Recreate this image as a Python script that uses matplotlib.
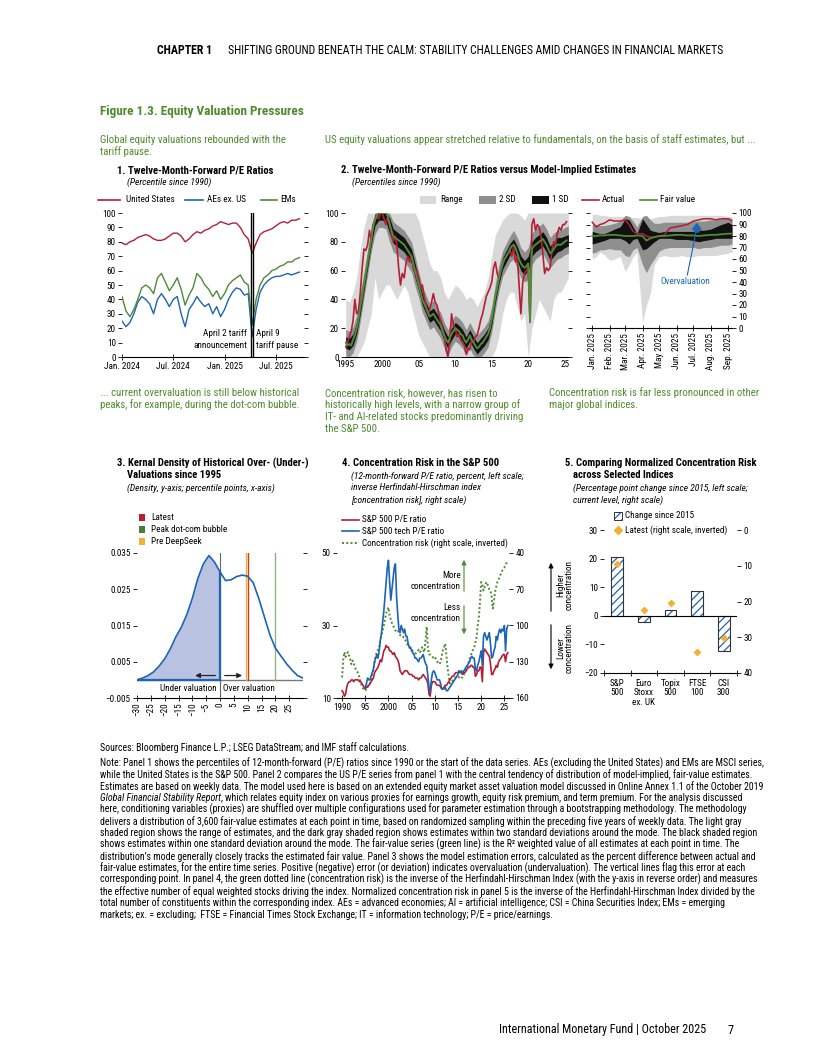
import numpy as np
import matplotlib
matplotlib.use('Agg')
import matplotlib.pyplot as plt
from matplotlib import font_manager as fm
from matplotlib.lines import Line2D
from matplotlib.patches import Rectangle, FancyArrowPatch

# pick the narrowest installed sans family
avail = {f.name for f in fm.fontManager.ttflist}
FONT = next((f for f in ['Roboto Condensed', 'Liberation Sans Narrow', 'Noto Sans Condensed',
                         'Roboto', 'Liberation Sans'] if f in avail), 'DejaVu Sans')
plt.rcParams['font.family'] = [FONT, 'DejaVu Sans']
plt.rcParams['hatch.linewidth'] = 0.9

RED = '#b51f35'
BLUE = '#1c64b4'
GREEN = '#4e8a37'
HEAD_GREEN = '#4f8b2e'
ORANGE = '#f2b134'

# ---------------- data ----------------
# panel 1: percentiles, biweekly from Jan 2024
p1_us = [79, 78, 80, 81, 83, 84, 85, 84, 82, 81, 81, 82, 84, 86, 86, 84, 80, 82, 85, 87, 86, 88, 89,
         91, 92, 94, 93, 92, 93, 93, 90, 85, 82, 72, 79, 85, 87, 88, 89, 91, 93, 94, 93, 95, 95, 96]
p1_aes = [25, 21, 24, 30, 38, 42, 40, 37, 30, 40, 44, 40, 35, 40, 42, 30, 21, 33, 37, 42, 38, 35, 37,
          30, 35, 28, 33, 40, 45, 48, 47, 43, 44, 14, 33, 45, 50, 53, 55, 56, 56, 57, 58, 57, 58, 59]
p1_ems = [42, 32, 28, 33, 40, 48, 50, 48, 44, 55, 58, 52, 46, 50, 55, 47, 36, 43, 48, 58, 55, 50, 47,
          42, 46, 40, 44, 50, 53, 55, 57, 52, 50, 22, 40, 50, 55, 57, 60, 61, 63, 64, 66, 66, 68, 69]
p1_events = ['2025-04-02', '2025-04-09']

# panel 2: quarterly from 1995
p2_actual = [7, 10, 14, 18, 25, 40, 30, 32, 45, 62, 75, 74, 78, 88, 80, 92, 95, 98, 96, 100,
             100, 96, 92, 97, 94, 86, 80, 84, 78, 62, 50, 58, 55, 65, 70, 66, 70, 62, 58, 60,
             55, 48, 50, 42, 36, 30, 33, 38, 44, 38, 36, 30, 25, 20, 15, 5, 0, 12, 30, 22,
             20, 14, 16, 12, 10, 8, 2, 6, 5, 12, 10, 14, 15, 20, 26, 30, 36, 42, 45, 48,
             52, 62, 66, 58, 54, 60, 64, 68, 70, 72, 74, 70, 76, 66, 70, 50, 30, 52, 58, 60,
             62, 24, 92, 96, 88, 92, 90, 84, 72, 58, 62, 60, 62, 74, 80, 78, 86, 90, 88, 92,
             92, 94]
p2_fair = [10, 8, 9, 8, 12, 15, 20, 26, 35, 42, 50, 58, 66, 74, 82, 90, 95, 98, 100, 100,
           100, 100, 100, 98, 92, 88, 84, 83, 82, 81, 80, 79, 78, 76, 74, 72, 70, 65, 60, 55,
           50, 45, 40, 37, 34, 31, 28, 29, 30, 28, 26, 24, 22, 18, 15, 12, 10, 13, 16, 18,
           20, 19, 18, 16, 15, 12, 10, 12, 15, 12, 10, 8, 6, 7, 9, 10, 12, 14, 16, 20,
           26, 34, 42, 48, 55, 60, 65, 68, 70, 72, 75, 77, 78, 76, 72, 68, 65, 63, 62, 63,
           65, 25, 75, 77, 78, 79, 80, 81, 82, 80, 78, 75, 72, 73, 75, 77, 78, 78, 78, 79,
           80, 81]
# semiannual bands from 1995
p2_sd1_lo = [6, 5, 8, 16, 30, 46, 62, 78, 91, 95, 95, 94, 86, 79, 77, 75, 73, 69, 65, 55, 46, 36,
             30, 24, 26, 22, 18, 11, 6, 12, 16, 14, 11, 6, 11, 6, 2, 5, 8, 12, 22, 38, 51, 61,
             66, 71, 74, 67, 60, 57, 60, 70, 73, 75, 77, 73, 67, 70, 73, 74, 76, 77]
p2_sd1_hi = [14, 13, 16, 24, 40, 54, 70, 86, 99, 100, 100, 100, 97, 89, 87, 85, 83, 79, 75, 65,
             54, 44, 38, 32, 34, 30, 26, 19, 14, 20, 24, 22, 19, 14, 19, 14, 10, 13, 16, 20, 30,
             46, 59, 69, 74, 79, 82, 77, 70, 67, 70, 80, 83, 85, 87, 83, 77, 80, 83, 83, 84, 85]
p2_sd2_lo = [1, 0, 3, 11, 25, 41, 57, 73, 85, 90, 90, 89, 80, 73, 71, 69, 67, 63, 59, 49, 41, 31,
             25, 19, 21, 17, 13, 6, 1, 7, 11, 9, 6, 1, 6, 1, 0, 0, 3, 7, 17, 33, 46, 56, 61, 66,
             68, 61, 55, 52, 54, 64, 68, 70, 72, 67, 62, 65, 68, 69, 71, 72]
p2_sd2_hi = [19, 18, 21, 29, 45, 59, 75, 91, 100, 100, 100, 100, 100, 94, 92, 90, 88, 84, 80, 70,
             59, 49, 43, 37, 39, 35, 31, 24, 19, 25, 29, 27, 24, 19, 24, 19, 15, 18, 21, 25, 35,
             51, 64, 74, 79, 84, 88, 83, 76, 73, 76, 86, 89, 91, 93, 89, 83, 86, 88, 88, 90, 91]
p2_rng_lo = [0, 0, 0, 0, 5, 10, 20, 30, 55, 40, 45, 50, 50, 45, 40, 45, 50, 45, 35, 25, 15, 10,
             5, 0, 0, 0, 0, 0, 0, 0, 0, 0, 0, 0, 0, 0, 0, 0, 0, 0, 0, 5, 15, 30, 40, 45, 45, 35,
             25, 30, 0, 20, 30, 40, 35, 30, 25, 40, 45, 45, 50, 55]
p2_rng_hi = [40, 38, 45, 55, 75, 90, 100, 100, 100, 100, 100, 100, 100, 100, 100, 100, 100, 100,
             100, 100, 95, 85, 75, 65, 60, 60, 55, 45, 40, 45, 50, 48, 45, 40, 42, 40, 35, 40, 45,
             55, 70, 85, 90, 95, 98, 100, 100, 100, 98, 95, 100, 100, 100, 100, 100, 100, 100,
             100, 100, 100, 100, 100]

# panel 2 inset: Jan-Sep 2025
p2i_dates = ['2025-01-01', '2025-01-08', '2025-01-15', '2025-01-22', '2025-02-01', '2025-02-10',
             '2025-02-20', '2025-03-01', '2025-03-08', '2025-03-15', '2025-03-22', '2025-04-01',
             '2025-04-08', '2025-04-15', '2025-04-22', '2025-05-01', '2025-05-10', '2025-05-20',
             '2025-06-01', '2025-06-10', '2025-06-20', '2025-07-01', '2025-07-10', '2025-07-20',
             '2025-08-01', '2025-08-10', '2025-08-20', '2025-09-01', '2025-09-08']
p2i_actual = [92, 88, 90, 91, 94, 93, 93, 94, 90, 84, 82, 82, 80, 79, 79, 80, 81, 87, 88, 89,
              90, 93, 94, 95, 95, 94, 95, 95, 93]
p2i_fair = [80, 80, 80.5, 80.5, 81, 81, 80.5, 80, 80, 80, 80.5, 80, 76, 78, 79, 80, 80, 80.5,
            81, 81, 80.5, 80.5, 80, 80.5, 81, 81, 81.5, 82, 82]
p2i_sd1_lo = [73, 74, 75, 76, 78, 78, 78, 76, 73, 77, 78, 68, 69, 72, 75, 78, 78, 78, 77, 77,
              77, 76, 75, 76, 77, 78, 78, 78, 78]
p2i_sd1_hi = [84, 83, 82, 82, 84, 86, 88, 95, 94, 88, 82, 95, 90, 85, 84, 83, 84, 84, 84, 84,
              84, 84, 85, 85, 86, 88, 90, 92, 90]
p2i_sd2_lo = [65, 66, 68, 68, 69, 68, 68, 63, 62, 68, 70, 55, 48, 55, 60, 67, 69, 70, 70, 70,
              70, 70, 69, 70, 70, 71, 72, 72, 73]
p2i_sd2_hi = [90, 90, 89, 89, 90, 91, 93, 98, 97, 93, 88, 97, 98, 94, 91, 91, 92, 92, 92, 92,
              92, 93, 93, 93, 94, 94, 95, 96, 95]
p2i_rng_lo = [60, 62, 66, 64, 59, 60, 62, 49, 55, 62, 66, 5, 20, 30, 55, 62, 63, 62, 62, 63,
              62, 62, 63, 63, 63, 63, 64, 65, 66]
p2i_rng_hi = [99, 99, 98, 98, 97, 97, 97, 97, 97, 96, 96, 95, 95, 95, 96, 97, 97, 98, 98, 98,
              98, 98, 98, 98, 98, 98, 98, 97, 97]

# panel 3: kernel density
kd_x = [-30, -28, -26, -24, -22, -20, -18, -16, -14, -12, -10, -8, -6, -4, -2, 0, 2, 4, 6, 8,
        10, 12, 14, 16, 18, 20, 22, 24, 26, 28, 30]
kd_y = [0.0000, 0.0005, 0.0012, 0.0022, 0.0038, 0.0058, 0.0085, 0.0118, 0.0145, 0.0180, 0.0225,
        0.0280, 0.0320, 0.0343, 0.0325, 0.0298, 0.0274, 0.0276, 0.0285, 0.0289, 0.0286, 0.0268,
        0.0225, 0.0175, 0.0125, 0.0088, 0.0066, 0.0045, 0.0027, 0.0012, 0.0005]
kd_latest, kd_dotcom, kd_deepseek = 10, 20, 9.5

# panel 4: quarterly from 1990 (tech from 1995)
p4_spx = [12, 11.5, 10.5, 11, 13, 14, 14.5, 14.5, 15, 15, 14.5, 15, 15, 15, 15, 14.5,
          14.5, 14, 13.5, 13, 12.5, 13, 13, 13.5, 14, 14.5, 15, 15.5, 17, 17.5, 18, 18.5,
          19.5, 20.5, 20, 21.5, 23, 23.5, 24.5, 24, 24, 23, 23, 22.5, 22, 22.5, 21.5, 21,
          20.5, 19.5, 17.5, 17, 16.5, 17, 17.5, 17.5, 17.5, 17, 16.5, 16.5, 16.5, 16, 16, 15.5,
          15.5, 15.5, 15, 15.5, 15.5, 16, 16.5, 16, 15.5, 15, 14, 11, 10.5, 13.5, 14.5, 14.5,
          14.5, 14, 13.5, 13.5, 13.5, 13, 12.5, 12.5, 13, 13.5, 13.5, 14, 14.5, 15, 15.5, 16,
          16, 16.5, 17, 17, 17, 17.5, 17, 17, 16.5, 17, 17, 17.5, 18, 18.5, 18.5, 19,
          19, 18.5, 18.5, 16, 16.5, 17.5, 17.5, 18.5, 18.5, 14.5, 22.5, 23.5, 23, 22.5, 22, 21.5,
          19.5, 16.5, 16.5, 17.5, 18, 19, 18.5, 20, 20.5, 21, 21.5, 22, 22, 20, 22, 22.5]
p4_tech = [13, 14, 15.5, 15, 15, 16, 17, 18, 20, 21, 22, 21, 23, 26, 28, 31, 34, 38, 42, 46,
           48, 42, 37, 40, 43, 46, 47, 38, 33, 29, 28, 30, 29, 28, 29, 27, 27, 25, 24, 24,
           23, 22.5, 22, 21, 21, 20.5, 20, 21, 21, 21.5, 22, 20.5, 19.5, 19, 16, 13, 11.5, 15, 17, 17.5,
           17, 16, 15, 15, 15, 14, 12.5, 12.5, 12.5, 13, 12, 12, 12.5, 13, 13.5, 14, 14.5, 15, 15.5, 16,
           16.5, 17.5, 17, 17.5, 17, 17.5, 18, 18.5, 19, 19.5, 20, 21, 21.5, 21, 21, 18, 17.5, 19, 20, 21.5,
           23, 19, 27, 28, 27, 26, 27, 28, 25, 21, 21.5, 23, 24, 27, 26, 28, 29, 28, 29, 28.5,
           30, 23, 29, 30]
p4_conc = [143, 128, 122, 126, 124, 122, 125, 128, 132, 129, 131, 134, 137, 138, 140, 143,
           147, 150, 152, 153, 154, 152, 150, 148, 148, 145, 140, 137, 130, 125, 122, 120,
           118, 112, 108, 104, 100, 95, 90, 87, 85, 92, 95, 98, 100, 102, 104, 105,
           104, 106, 108, 108, 108, 110, 111, 113, 115, 117, 118, 120, 120, 121, 122, 123,
           123, 122, 120, 122, 121, 118, 120, 122, 112, 101, 118, 124, 124, 125, 126, 127,
           126, 128, 130, 131, 132, 130, 125, 120, 118, 115, 125, 135, 142, 148, 147, 146,
           145, 144, 143, 143, 142, 143, 142, 143, 143, 141, 138, 136, 134, 131, 128, 125,
           122, 120, 118, 114, 110, 100, 93, 80, 64, 66, 71, 68, 65, 64, 68, 70,
           71, 76, 86, 80, 72, 68, 64, 62, 60, 57, 55, 53, 52, 50, 48, 46]

# panel 5
p5_labels = ['S&P\n500', 'Euro\nStoxx\nex. UK', 'Topix\n500', 'FTSE\n100', 'CSI\n300']
p5_change = [20.5, -2.0, 2.0, 8.7, -12.3]
p5_latest = [9.5, 22.4, 20.5, 34.0, 30.2]

# ---------------- layout helpers (pixel coords, origin top-left) ----------------
W, H = 816, 1056
fig = plt.figure(figsize=(W / 100, H / 100), dpi=100)
R = fig.canvas.get_renderer()


def add_ax(x0, y0, x1, y1):
    return fig.add_axes([x0 / W, 1 - y1 / H, (x1 - x0) / W, (y1 - y0) / H])


def txt(x, y, s, **kw):
    kw.setdefault('va', 'center')
    kw.setdefault('fontsize', 7)
    return fig.text(x / W, 1 - y / H, s, **kw)


def fit_size(t, width):
    return t.get_fontsize() * width / t.get_window_extent(renderer=R).width


def block(x, y, dy, rows, width=None, size=None, **kw):
    ts = [txt(x, y + i * dy, r, **kw) for i, r in enumerate(rows)]
    fs = size if size else (fit_size(ts[0], width) if width else None)
    if fs:
        for t in ts:
            t.set_fontsize(fs)
    return ts


def leg_line(x0, x1, y, color, ls='-', lw=1.2):
    fig.add_artist(Line2D([x0 / W, x1 / W], [1 - y / H, 1 - y / H], color=color, ls=ls, lw=lw,
                          transform=fig.transFigure))


def leg_box(x0, y0, w, h, **kw):
    fig.add_artist(Rectangle((x0 / W, 1 - (y0 + h) / H), w / W, h / H,
                             transform=fig.transFigure, **kw))


def fig_arrow(x0, y0, x1, y1, color='black', lw=0.8):
    fig.add_artist(FancyArrowPatch((x0 / W, 1 - y0 / H), (x1 / W, 1 - y1 / H),
                                   transform=fig.transFigure, arrowstyle='-|>',
                                   mutation_scale=7, color=color, lw=lw))


# chart text size from a reference tick label
_t = txt(0, 0, 'Jan. 2024')
CH = fit_size(_t, 36)
_t.remove()


def style(ax, right=True):
    for s in ['top', 'left', 'right']:
        ax.spines[s].set_visible(False)
    ax.spines['bottom'].set_linewidth(0.8)
    ax.tick_params(labelsize=CH, length=3, width=0.6, pad=1.5, right=right, labelright=False)
    ax.set_facecolor('none')


# ---------------- header / headings ----------------
t1 = txt(157, 51, 'CHAPTER 1', fontweight='bold')
t1.set_fontsize(fit_size(t1, 55))
t2 = txt(228, 51, 'SHIFTING GROUND BENEATH THE CALM: STABILITY CHALLENGES AMID CHANGES IN FINANCIAL MARKETS')
t2.set_fontsize(fit_size(t2, 499))

tt = txt(100, 111, 'Figure 1.3. Equity Valuation Pressures', fontweight='bold', color=HEAD_GREEN)
tt.set_fontsize(fit_size(tt, 205))

SUB = block(100, 140, 12, ['Global equity valuations rebounded with the', 'tariff pause.'],
            width=187, color=HEAD_GREEN)
SUBFS = SUB[0].get_fontsize()
block(325, 140, 12, ['US equity valuations appear stretched relative to fundamentals, on the basis of staff estimates, but ...'],
      size=SUBFS, color=HEAD_GREEN)
block(100, 393, 12, ['... current overvaluation is still below historical',
                     'peaks, for example, during the dot-com bubble.'], size=SUBFS, color=HEAD_GREEN)
block(325, 393, 12, ['Concentration risk, however, has risen to',
                     'historically high levels, with a narrow group of',
                     'IT- and AI-related stocks predominantly driving',
                     'the S&P 500.'], size=SUBFS, color=HEAD_GREEN)
block(549, 393, 12, ['Concentration risk is far less pronounced in other',
                     'major global indices.'], size=SUBFS, color=HEAD_GREEN)

# panel titles
PT = block(117, 170, 12, ['1. Twelve-Month-Forward P/E Ratios'], width=157, fontweight='bold')
PTFS = PT[0].get_fontsize()
IT = block(127, 182, 12, ['(Percentile since 1990)'], width=84, style='italic')
ITFS = IT[0].get_fontsize()
block(341, 170, 12, ['2. Twelve-Month-Forward P/E Ratios versus Model-Implied Estimates'],
      size=PTFS, fontweight='bold')
block(352, 182, 12, ['(Percentiles since 1990)'], size=ITFS, style='italic')
block(117, 463, 12, ['3. Kernal Density of Historical Over- (Under-)'], size=PTFS, fontweight='bold')
block(127, 475, 12, ['Valuations since 1995'], size=PTFS, fontweight='bold')
block(127, 488, 12, ['(Density, y-axis; percentile points, x-axis)'], size=ITFS, style='italic')
block(342, 463, 12, ['4. Concentration Risk in the S&P 500'], size=PTFS, fontweight='bold')
block(351, 476, 12, ['(12-month-forward P/E ratio, percent, left scale;',
                     'inverse Herfindahl-Hirschman index',
                     '[concentration risk], right scale)'], size=ITFS, style='italic')
block(565, 463, 12, ['5. Comparing Normalized Concentration Risk'], size=PTFS, fontweight='bold')
block(573, 475, 12, ['across Selected Indices'], size=PTFS, fontweight='bold')
block(573, 488, 12, ['(Percentage point change since 2015, left scale;',
                     'current level, right scale)'], size=ITFS, style='italic')

# ---------------- panel 1 ----------------
ax1 = add_ax(122, 213, 304, 357)
style(ax1)
d1 = np.datetime64('2024-01-01') + np.arange(len(p1_us)) * np.timedelta64(14, 'D')
ax1.plot(d1, p1_us, color=RED, lw=1.0)
ax1.plot(d1, p1_aes, color=BLUE, lw=1.0)
ax1.plot(d1, p1_ems, color=GREEN, lw=1.0)
for d in p1_events:
    ax1.axvline(np.datetime64(d), color='black', lw=1.0)
ax1.set_ylim(0, 100)
ax1.set_yticks(range(0, 101, 10))
ax1.set_xlim(np.datetime64('2024-01-01'), np.datetime64('2025-10-08'))
ax1.set_xticks(np.array(['2024-01-01', '2024-07-01', '2025-01-01', '2025-07-01'], dtype='datetime64[D]'))
ax1.set_xticklabels(['Jan. 2024', 'Jul. 2024', 'Jan. 2025', 'Jul. 2025'])
ax1.tick_params(axis='x', direction='inout', length=4)
block(247, 333, 12, ['April 2 tariff', 'announcement'], size=CH, ha='right')
block(256, 333, 12, ['April 9', 'tariff pause'], size=CH, ha='left')
leg_line(98, 120, 200, RED)
txt(126, 200, 'United States', fontsize=CH)
leg_line(185, 203, 200, BLUE)
txt(207, 200, 'AEs ex. US', fontsize=CH)
leg_line(261, 277, 200, GREEN)
txt(280, 200, 'EMs', fontsize=CH)

# ---------------- panel 2 ----------------
ax2 = add_ax(345, 213, 568, 357)
style(ax2)
tq = 1995 + 0.25 * np.arange(len(p2_actual))
ts = 1995 + 0.5 * np.arange(len(p2_rng_lo))
ax2.fill_between(ts, p2_rng_lo, p2_rng_hi, color='#d9d9d9', lw=0)
ax2.fill_between(ts, p2_sd2_lo, p2_sd2_hi, color='#8f8f8f', lw=0)
ax2.fill_between(ts, p2_sd1_lo, p2_sd1_hi, color='#111111', lw=0)
ax2.plot(tq, p2_actual, color=RED, lw=1.2)
ax2.plot(1995 + 0.25 * np.arange(len(p2_fair)), p2_fair, color=GREEN, lw=1.4)
ax2.set_xlim(1994.9, 2025.45)
ax2.set_ylim(0, 100)
ax2.set_yticks(range(0, 101, 20))
ax2.set_xticks([1995, 2000, 2005, 2010, 2015, 2020, 2025])
ax2.set_xticklabels(['1995', '2000', '05', '10', '15', '20', '25'])
ax2.tick_params(axis='x', length=0, pad=2)

# inset of 2025
ax2i = add_ax(590, 213, 732, 328)
style(ax2i)
di = np.array(p2i_dates, dtype='datetime64[D]')
ax2i.fill_between(di, p2i_rng_lo, p2i_rng_hi, color='#d9d9d9', lw=0)
ax2i.fill_between(di, p2i_sd2_lo, p2i_sd2_hi, color='#8f8f8f', lw=0)
ax2i.fill_between(di, p2i_sd1_lo, p2i_sd1_hi, color='#111111', lw=0)
ax2i.plot(di, p2i_actual, color=RED, lw=1.1)
ax2i.plot(di, p2i_fair, color=GREEN, lw=1.3)
ax2i.set_ylim(0, 100)
ax2i.set_yticks(range(0, 101, 10))
ax2i.tick_params(axis='y', labelleft=False, labelright=True)
ax2i.set_xlim(np.datetime64('2024-12-28'), np.datetime64('2025-09-08'))
months = np.array(['2025-%02d-01' % m for m in range(1, 10)], dtype='datetime64[D]')
ax2i.set_xticks(months)
ax2i.set_xticklabels(['Jan. 2025', 'Feb. 2025', 'Mar. 2025', 'Apr. 2025', 'May 2025',
                      'Jun. 2025', 'Jul. 2025', 'Aug. 2025', 'Sep. 2025'], rotation=90)
ax2i.tick_params(axis='x', direction='inout', length=4)
arr_d = np.datetime64('2025-07-07')
ax2i.annotate('', xy=(arr_d, 93), xytext=(arr_d, 81),
              arrowprops=dict(arrowstyle='simple,head_width=1.2,head_length=0.8,tail_width=0.6',
                              color=BLUE, mutation_scale=5))
ax2i.plot([np.datetime64('2025-06-20'), np.datetime64('2025-07-05')], [46, 82], color=BLUE, lw=0.8)
ax2i.text(np.datetime64('2025-06-16'), 40, 'Overvaluation', color=BLUE, fontsize=CH,
          ha='center', va='center')

leg_box(420, 196, 16, 8, color='#d9d9d9', lw=0)
txt(440, 200, 'Range', fontsize=CH)
leg_box(479, 196, 17, 8, color='#8f8f8f', lw=0)
txt(499, 200, '2 SD', fontsize=CH)
leg_box(532, 196, 17, 8, color='#111111', lw=0)
txt(552, 200, '1 SD', fontsize=CH)
leg_line(582, 599, 200, RED)
txt(602, 200, 'Actual', fontsize=CH)
leg_line(640, 657, 200, GREEN)
txt(660, 200, 'Fair value', fontsize=CH)

# ---------------- panel 3 ----------------
ax3 = add_ax(137, 553, 303, 698)
style(ax3)
kx = np.array(kd_x, dtype=float)
ky = np.array(kd_y)
ax3.fill_between(kx, 0, ky, where=kx <= 0, color='#b9c2e1', lw=0)
ax3.plot([-30, 30], [0, 0], color='#777777', lw=1.0)
ax3.plot([-30, 0], [0, 0], color=BLUE, lw=1.6)
ax3.plot([0, 0], [-0.005, 0.035], color='#666666', lw=0.8)
ax3.plot([0, 0], [0, kd_y[kd_x.index(0)]], color=BLUE, lw=1.6)
ax3.plot([kd_deepseek, kd_deepseek], [0, 0.035], color=ORANGE, lw=1.0)
ax3.plot([kd_latest, kd_latest], [0, 0.035], color='#d13a2a', lw=1.0)
ax3.plot([kd_dotcom, kd_dotcom], [0, 0.035], color='#8fb47e', lw=1.0)
ax3.plot(kx, ky, color=BLUE, lw=1.2)
ax3.annotate('', xy=(-10, 0.0012), xytext=(-0.7, 0.0012),
             arrowprops=dict(arrowstyle='-|>', color='#222222', lw=0.9, mutation_scale=7))
ax3.annotate('', xy=(9, 0.0012), xytext=(0.7, 0.0012),
             arrowprops=dict(arrowstyle='-|>', color='#222222', lw=0.9, mutation_scale=7))
ax3.text(-1.2, -0.0024, 'Under valuation', ha='right', va='center', fontsize=CH)
ax3.text(1.2, -0.0024, 'Over valuation', ha='left', va='center', fontsize=CH)
ax3.set_xlim(-30, 30)
ax3.set_ylim(-0.005, 0.035)
ax3.set_yticks([-0.005, 0.005, 0.015, 0.025, 0.035])
ax3.set_yticklabels(['\u22120.005', '0.005', '0.015', '0.025', '0.035'])
ax3.set_xticks(range(-30, 30, 5))
ax3.set_xticklabels([('\u2212%d' % -v) if v < 0 else str(v) for v in range(-30, 30, 5)], rotation=90)
ax3.tick_params(axis='x', direction='inout', length=4)
leg_box(139, 514, 6, 7, color=RED, lw=0)
txt(151, 518, 'Latest', fontsize=CH)
leg_box(139, 526, 6, 7, color='#4c7f35', lw=0)
txt(151, 530, 'Peak dot-com bubble', fontsize=CH)
leg_box(139, 538, 6, 7, color=ORANGE, lw=0)
txt(151, 542, 'Pre DeepSeek', fontsize=CH)

# ---------------- panel 4 ----------------
ax4 = add_ax(337, 553, 509, 698)
style(ax4)
ax4b = ax4.twinx()
for s in ax4b.spines.values():
    s.set_visible(False)
ax4b.tick_params(labelsize=CH, length=3, width=0.6, pad=1.5)
t4 = 1990 + 0.25 * np.arange(len(p4_spx))
t4t = 1995 + 0.25 * np.arange(len(p4_tech))
ax4b.plot(1990 + 0.25 * np.arange(len(p4_conc)), p4_conc, color=GREEN, lw=1.4, ls=(0, (1, 1.2)))
ax4.plot(t4, p4_spx, color=RED, lw=1.2)
ax4.plot(t4t, p4_tech, color=BLUE, lw=1.2)
ax4.set_zorder(ax4b.get_zorder() + 1)
ax4.set_xlim(1988.9, 2026.0)
ax4.set_ylim(10, 50)
ax4.set_yticks([10, 30, 50])
ax4.tick_params(right=False)
ax4b.set_ylim(160, 40)
ax4b.set_yticks([40, 70, 100, 130, 160])
ax4.set_xticks(range(1990, 2026, 5))
ax4.set_xticklabels(['1990', '95', '2000', '05', '10', '15', '20', '25'])
ax4.tick_params(axis='x', direction='inout', length=4)
block(461, 575, 11.5, ['More', 'concentration'], size=CH, ha='right')
block(461, 607, 11.5, ['Less', 'concentration'], size=CH, ha='right')
fig_arrow(464, 594, 464, 557, color=GREEN)
fig_arrow(464, 603, 464, 637, color=GREEN)
leg_line(342, 359, 520, RED)
txt(362, 520, 'S&P 500 P/E ratio', fontsize=CH)
leg_line(342, 359, 531, BLUE)
txt(362, 531, 'S&P 500 tech P/E ratio', fontsize=CH)
leg_line(342, 359, 543, GREEN, ls=(0, (1, 1.2)), lw=1.4)
txt(362, 543, 'Concentration risk (right scale, inverted)', fontsize=CH)

# ---------------- panel 5 ----------------
ax5 = add_ax(604, 530, 737, 673)
style(ax5)
ax5b = ax5.twinx()
for s in ax5b.spines.values():
    s.set_visible(False)
ax5b.tick_params(labelsize=CH, length=3, width=0.6, pad=1.5)
xp = np.arange(len(p5_change))
ax5.bar(xp, p5_change, width=0.45, facecolor='white', edgecolor=BLUE, hatch='////', lw=0)
ax5.bar(xp, p5_change, width=0.45, fill=False, edgecolor='#333333', lw=0.8)
ax5.axhline(0, color='black', lw=0.8)
ax5b.scatter(xp, p5_latest, marker='D', s=16, color=ORANGE, zorder=5, lw=0)
ax5.set_xlim(-0.5, 4.5)
ax5.set_ylim(-20, 30)
ax5.set_yticks(range(-20, 31, 10))
ax5.set_yticklabels(['\u221220', '\u221210', '0', '10', '20', '30'])
ax5.tick_params(right=False)
ax5b.set_ylim(40, 0)
ax5b.set_yticks(range(0, 41, 10))
ax5.set_xticks(xp)
ax5.set_xticklabels(p5_labels, linespacing=1.1)
ax5.tick_params(axis='x', length=0, pad=4)
ax5.set_xticks(np.arange(-0.5, 5, 1), minor=True)
ax5.tick_params(axis='x', which='minor', direction='inout', length=4, width=0.6)
fig_arrow(551, 614, 551, 560)
fig_arrow(551, 622, 551, 672)
txt(565, 585, 'Higher\nconcentration', fontsize=CH, rotation=90, ha='center', va='center',
    linespacing=1.0)
txt(565, 648, 'Lower\nconcentration', fontsize=CH, rotation=90, ha='center', va='center',
    linespacing=1.0)
leg_box(614, 512, 8, 8, facecolor='white', edgecolor=BLUE, hatch='////', lw=0)
leg_box(614, 512, 8, 8, fill=False, edgecolor='#333333', lw=0.7)
txt(625, 516, 'Change since 2015', fontsize=CH)
fig.add_artist(Line2D([618 / W], [1 - 530 / H], marker='D', markersize=4.5, color=ORANGE,
                      lw=0, transform=fig.transFigure))
txt(625, 530, 'Latest (right scale, inverted)', fontsize=CH)

# ---------------- notes ----------------
src = txt(100, 748, 'Sources: Bloomberg Finance L.P.; LSEG DataStream; and IMF staff calculations.')
note_lines = [
    'Note: Panel 1 shows the percentiles of 12-month-forward (P/E) ratios since 1990 or the start of the data series. AEs (excluding the United States) and EMs are MSCI series,',
    'while the United States is the S&P 500. Panel 2 compares the US P/E series from panel 1 with the central tendency of distribution of model-implied, fair-value estimates.',
    'Estimates are based on weekly data. The model used here is based on an extended equity market asset valuation model discussed in Online Annex 1.1 of the October 2019',
    ', which relates equity index on various proxies for earnings growth, equity risk premium, and term premium. For the analysis discussed',
    'here, conditioning variables (proxies) are shuffled over multiple configurations used for parameter estimation through a bootstrapping methodology. The methodology',
    'delivers a distribution of 3,600 fair-value estimates at each point in time, based on randomized sampling within the preceding five years of weekly data. The light gray',
    'shaded region shows the range of estimates, and the dark gray shaded region shows estimates within two standard deviations around the mode. The black shaded region',
    'shows estimates within one standard deviation around the mode. The fair-value series (green line) is the R\u00b2 weighted value of all estimates at each point in time. The',
    "distribution\u2019s mode generally closely tracks the estimated fair value. Panel 3 shows the model estimation errors, calculated as the percent difference between actual and",
    'fair-value estimates, for the entire time series. Positive (negative) error (or deviation) indicates overvaluation (undervaluation). The vertical lines flag this error at each',
    'corresponding point. In panel 4, the green dotted line (concentration risk) is the inverse of the Herfindahl-Hirschman Index (with the y-axis in reverse order) and measures',
    'the effective number of equal weighted stocks driving the index. Normalized concentration risk in panel 5 is the inverse of the Herfindahl-Hirschman Index divided by the',
    'total number of constituents within the corresponding index. AEs = advanced economies; AI = artificial intelligence; CSI = China Securities Index; EMs = emerging',
    'markets; ex. = excluding;  FTSE = Financial Times Stock Exchange; IT = information technology; P/E = price/earnings.',
]
note_ts = []
ital = None
for i, s in enumerate(note_lines):
    y = 763 + i * 11.65
    if i == 3:
        ital = txt(100, y, 'Global Financial Stability Report', style='italic')
    note_ts.append(txt(100, y, s))
# common size so the widest line fills the text column
fits = []
for i, t in enumerate(note_ts[:-1]):
    w = t.get_window_extent(renderer=R).width
    if i == 3:
        w += ital.get_window_extent(renderer=R).width
    fits.append(t.get_fontsize() * 670 / w)
NFS = min(fits)
for t in note_ts + [src, ital]:
    t.set_fontsize(NFS)
iw = ital.get_window_extent(renderer=R).width
note_ts[3].set_x((100 + iw) / W)

# footer
f1 = txt(706, 1030, 'International Monetary Fund | October 2025', ha='right')
f1.set_fontsize(fit_size(f1, 209))
txt(727, 1030, '7', fontsize=f1.get_fontsize())

fig.savefig('out.png', dpi=100)
